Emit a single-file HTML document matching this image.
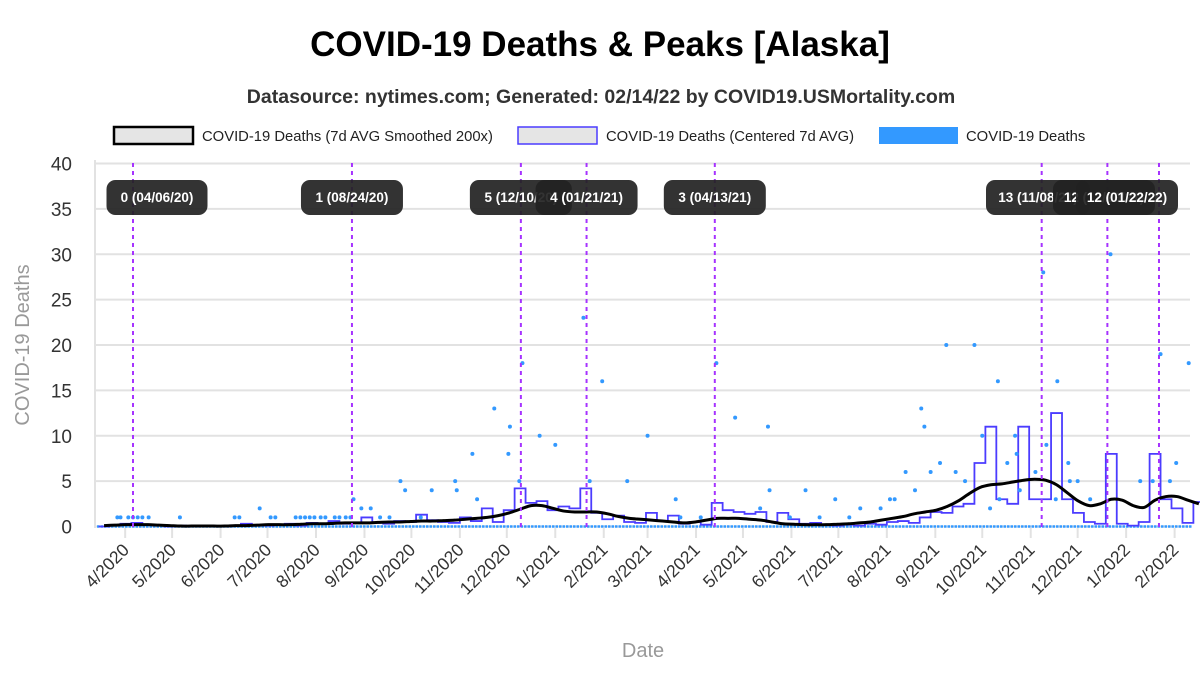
<!DOCTYPE html>
<html><head><meta charset="utf-8">
<style>
body{margin:0;background:#fff;font-family:"Liberation Sans",sans-serif;}
svg text{font-family:"Liberation Sans",sans-serif;}
</style></head>
<body>
<svg id="chart" width="1200" height="670" xmlns="http://www.w3.org/2000/svg">
<text x="600" y="56" text-anchor="middle" font-size="35" font-weight="bold" fill="#000">COVID-19 Deaths &amp; Peaks [Alaska]</text>
<text x="601" y="103" text-anchor="middle" font-size="19.5" font-weight="bold" fill="#333">Datasource: nytimes.com; Generated: 02/14/22 by COVID19.USMortality.com</text>
<g>
<rect x="114" y="127" width="79" height="17" fill="#e5e5e5" stroke="#000" stroke-width="2.5"/>
<text x="202" y="141" font-size="14.8" fill="#222">COVID-19 Deaths (7d AVG Smoothed 200x)</text>
<rect x="518" y="127" width="79" height="17" fill="#e5e5e5" stroke="#4b3cff" stroke-width="1.5"/>
<text x="606" y="141" font-size="14.8" fill="#222">COVID-19 Deaths (Centered 7d AVG)</text>
<rect x="879" y="127" width="79" height="17" fill="#3399ff"/>
<text x="966" y="141" font-size="14.8" fill="#222">COVID-19 Deaths</text>
</g>
<text transform="translate(29,345) rotate(-90)" text-anchor="middle" font-size="20" fill="#999">COVID-19 Deaths</text>
<text x="643" y="657" text-anchor="middle" font-size="20" fill="#999">Date</text>
<g id="grid"></g><g id="xaxis"></g><g id="series"></g><g id="peaks"></g>
</svg>
<script>
// weekly series starting 2020-03-15
const weekStart = "2020-03-15";
const avg7 = [0,0.1,0.3,0.4,0.2,0.1,0,0.1,0,0,
0,0,0.1,0.3,0.1,0.1,0.2,0.3,0.1,0.4,
0.3,0.6,0.3,0.4,1.0,0.4,0.3,0.6,0.5,1.3,
0.7,0.5,0.4,1.0,0.6,2.0,0.5,1.8,4.2,2.6,
2.8,1.8,2.2,2.0,4.2,1.5,0.8,1.2,0.5,0.4,
1.5,0.6,1.2,0.3,0.5,0.2,2.6,1.8,1.6,1.4,
1.6,0.5,1.5,0.8,0.3,0.4,0.2,0.1,0.2,0.1,
0.3,0.2,0.5,0.6,0.4,1.0,1.6,1.5,2.2,2.5,
7,11,3,2.5,11,3,3,12.5,3,1.5,
0.5,0.3,8,0.3,0.1,0.5,8,3,2,0.4,2.7];
const smooth = [0.1,0.15,0.2,0.2,0.2,0.15,0.1,0.05,0.05,0.05,
0.05,0.05,0.1,0.1,0.15,0.2,0.2,0.2,0.25,0.3,
0.3,0.35,0.4,0.4,0.4,0.45,0.5,0.5,0.55,0.6,
0.6,0.65,0.7,0.8,0.9,1.0,1.2,1.5,1.9,2.3,
2.3,2.0,1.7,1.6,1.6,1.6,1.4,1.1,0.9,0.8,
0.7,0.6,0.5,0.4,0.5,0.7,0.9,0.9,0.9,0.8,
0.7,0.5,0.3,0.25,0.2,0.2,0.2,0.25,0.3,0.4,
0.5,0.7,0.9,1.1,1.4,1.6,1.8,2.2,2.8,3.6,
4.3,4.6,4.7,4.9,5.1,5.2,5.1,4.6,3.7,2.8,
2.3,2.5,3.0,2.9,2.3,2.1,2.9,3.3,3.3,2.9,2.5];
// daily deaths: day offset from 2020-04-06, value
const pointDays = [-10,-8,-3,0,3,6,10,30,65,68,81,88,91,104,107,110,113,116,120,123,129,132,136,139,141,146,152,158,164,171,174,184,191,206,207,217,220,231,241,240,247,249,260,270,288,292,300,316,329,347,373,385,406,407,430,449,465,484,500,504,506,520,532,538,543,553,564,582,584,591,598,599,625,657,675,667,663,652,644,604,612,516,526,559,565,577,590,350,363,401,420,439,458,478,487,494,510,548,554,567];
const pointVals = [1,1,1,1,1,1,1,1,1,1,2,1,1,1,1,1,1,1,1,1,1,1,1,1,3,2,2,1,1,5,4,1,4,5,4,8,3,13,11,8,5,18,10,9,23,5,16,5,10,3,18,12,11,4,4,3,2,3,4,13,11,20,5,20,10,16,10,28,9,16,7,5,30,19,18,7,5,5,5,5,3,7,6,7,8,6,3,1,1,2,1,1,1,2,3,6,6,2,3,4];
const peakDays = [0,140,248,290,372,581,623,656];
const peakLabels = ["0 (04/06/20)","1 (08/24/20)","5 (12/10/20)","4 (01/21/21)","3 (04/13/21)","13 (11/08/21)","12 (12/20/21)","12 (01/22/22)"];
const yTicks = [0,5,10,15,20,25,30,35,40];

const NS="http://www.w3.org/2000/svg";
const DAY=86400000, base=Date.UTC(2020,3,6);
const X0=133, PXD=1.564, Y0=526.5, PXU=9.075;
const xOfDay=d=>X0+d*PXD;
const yOf=v=>Y0-v*PXU;
const ws=(Date.UTC(2020,2,15)-base)/DAY;
function mk(tag,attrs,parent){const e=document.createElementNS(NS,tag);for(const k in attrs)e.setAttribute(k,attrs[k]);parent.appendChild(e);return e;}
const grid=document.getElementById('grid'),xa=document.getElementById('xaxis'),ser=document.getElementById('series'),pk=document.getElementById('peaks');
yTicks.forEach(t=>{
 const l=mk('line',{x1:95,x2:1190,y1:yOf(t),y2:yOf(t),stroke:'#e2e2e2','stroke-width':2},grid);
 
 
 const tx=mk('text',{x:72,y:yOf(t)+7,'text-anchor':'end','font-size':19,fill:'#333'},grid);
 tx.textContent=t;
 
 
});
const ax=mk('line',{x1:95,x2:95,y1:160,y2:528,stroke:'#e2e2e2','stroke-width':2},grid);


for(let m=0;m<23;m++){
 const yy=2020+Math.floor((3+m)/12), mm=(3+m)%12;
 const d=(Date.UTC(yy,mm,1)-base)/DAY, x=xOfDay(d);
 const tk=mk('line',{x1:x,x2:x,y1:528,y2:538,stroke:'#e2e2e2','stroke-width':2},xa);
 
 
 const tx=mk('text',{transform:`translate(${x+5},${551}) rotate(-45)`,'text-anchor':'end','font-size':17.5,fill:'#333'},xa);
 tx.textContent=(mm+1)+'/'+yy;
 
 
}
const zb=mk('line',{x1:xOfDay(-23),x2:xOfDay(677),y1:Y0,y2:Y0,stroke:'#3399ff','stroke-width':2.5,'stroke-dasharray':'2.5,1'},ser);


let p='';
avg7.forEach((v,i)=>{const x1=xOfDay(ws+i*7),x2=xOfDay(ws+i*7+7),y=yOf(v);p+=(i?'L':'M')+x1+' '+y+'L'+x2+' '+y;});
const al=mk('path',{d:p,fill:'none',stroke:'#4b3cff','stroke-width':1.8},ser);


pointDays.forEach((d,i)=>{
 const c=mk('circle',{cx:xOfDay(d),cy:yOf(pointVals[i]),r:2,fill:'#3399ff'},ser);
 
 
});
const pts=smooth.map((v,i)=>[xOfDay(ws+i*7+3.5),yOf(v)]);
let s='M'+pts[0][0]+' '+pts[0][1];
for(let i=0;i<pts.length-1;i++){
 const p0=pts[Math.max(0,i-1)],p1=pts[i],p2=pts[i+1],p3=pts[Math.min(pts.length-1,i+2)];
 s+=`C${p1[0]+(p2[0]-p0[0])/6} ${p1[1]+(p2[1]-p0[1])/6} ${p2[0]-(p3[0]-p1[0])/6} ${p2[1]-(p3[1]-p1[1])/6} ${p2[0]} ${p2[1]}`;
}
const sl=mk('path',{d:s,fill:'none',stroke:'#000','stroke-width':3},ser);


const boxW=[101,102,102,102,102,104,102,102];
peakDays.forEach((d,i)=>{
 const x=xOfDay(d);
 const l=mk('line',{x1:x,x2:x,y1:163,y2:527,stroke:'#a633ff','stroke-width':2,'stroke-dasharray':'4,4'},pk);
 
 
});
peakDays.forEach((d,i)=>{
 let cx=xOfDay(d);
 if(i===0)cx=157; if(i===5)cx=1038; if(i===6)cx=1104; if(i===7)cx=1127;
 const w=boxW[i];
 const g=mk('g',{},pk);
 
 
 mk('rect',{x:cx-w/2,y:180,width:w,height:35,rx:9,fill:'#222','fill-opacity':0.92},g);
 const t=mk('text',{x:cx,y:202,'text-anchor':'middle','font-size':13.5,'font-weight':'bold',fill:'#fff'},g);
 t.textContent=peakLabels[i];
});
</script>
</body></html>
